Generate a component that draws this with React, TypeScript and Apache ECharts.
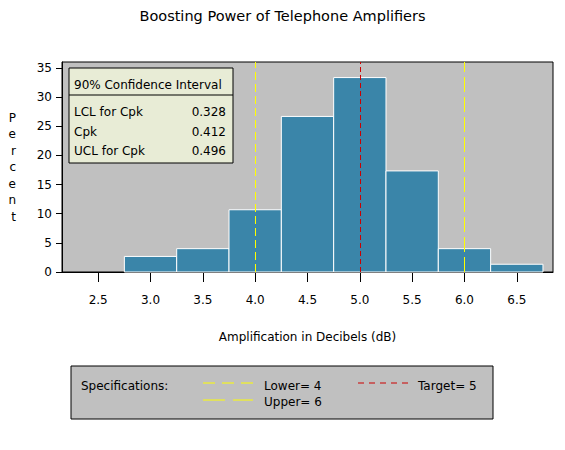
import { useEffect, useRef } from 'react'
import * as echarts from 'echarts'

const FONT = 'DejaVu Sans'

// histogram bins (midpoints 3.0 .. 6.5, width 0.5) and percent of units
const binEdges = [2.75, 3.25, 3.75, 4.25, 4.75, 5.25, 5.75, 6.25, 6.75]
const percents = [2.67, 4.0, 10.67, 26.67, 33.33, 17.33, 4.0, 1.33]

const xTicks = [2.5, 3.0, 3.5, 4.0, 4.5, 5.0, 5.5, 6.0, 6.5]
const yTicks = [0, 5, 10, 15, 20, 25, 30, 35]

// specification limits
const specNames = ['Lower', 'Target', 'Upper']
const specValues = [4, 5, 6]
const specColors = ['#ffff00', '#cc0000', '#ffff00']
const specDashes = [[8, 4], [5, 3], [15, 5]]

// capability inset
const ciTitle = '90% Confidence Interval'
const ciLabels = ['LCL for Cpk', 'Cpk', 'UCL for Cpk']
const ciValues = [0.328, 0.412, 0.496]

export default function App() {
  const ref = useRef<HTMLDivElement>(null)

  useEffect(() => {
    if (!ref.current) {
      return
    }
    document.body.style.margin = '0'
    const chart = echarts.init(ref.current, null, { renderer: 'svg' })

    const bars = percents.map((p, i) => [binEdges[i], binEdges[i + 1], p])
    const text = (x: number, y: number, t: string, align = 'left') => ({
      type: 'text',
      x,
      y,
      style: { text: t, fill: '#000', font: `12px "${FONT}"`, align, verticalAlign: 'middle' },
    })

    const rowY = [112, 132, 151]
    const inset = [
      {
        type: 'rect',
        shape: { x: 69, y: 68, width: 164, height: 95 },
        style: { fill: '#e8ecd6', stroke: '#000', lineWidth: 1 },
      },
      { type: 'line', shape: { x1: 69, y1: 95, x2: 233, y2: 95 }, style: { stroke: '#000', lineWidth: 1 } },
      text(74, 85, ciTitle),
      ...ciLabels.map((l, i) => text(74, rowY[i], l)),
      ...ciValues.map((v, i) => text(226, rowY[i], v.toFixed(3), 'right')),
    ]

    const legendLine = (x1: number, x2: number, y: number, i: number, dash: number[]) => ({
      type: 'line',
      shape: { x1, y1: y, x2, y2: y },
      style: { stroke: specColors[i], lineWidth: 1, lineDash: dash },
    })
    const legend = [
      {
        type: 'rect',
        shape: { x: 71, y: 366, width: 422, height: 53 },
        style: { fill: '#c0c0c0', stroke: '#000', lineWidth: 1 },
      },
      text(81, 386, 'Specifications:'),
      legendLine(203, 253, 383, 0, [12, 7]),
      text(264, 386, `${specNames[0]}= ${specValues[0]}`),
      legendLine(203, 253, 400, 2, [22, 8]),
      text(264, 402, `${specNames[2]}= ${specValues[2]}`),
      legendLine(358, 409, 383, 1, [6, 5]),
      text(418, 386, `${specNames[1]}= ${specValues[1]}`),
    ]

    chart.setOption({
      animation: false,
      textStyle: { fontFamily: FONT, color: '#000' },
      title: {
        text: 'Boosting Power of Telephone Amplifiers',
        left: 'center',
        top: 3,
        textStyle: { fontFamily: FONT, fontSize: 14.5, fontWeight: 'normal', color: '#000' },
      },
      grid: {
        left: 62,
        right: 12,
        top: 62,
        bottom: 178,
        show: true,
        backgroundColor: '#c0c0c0',
        borderColor: '#000',
        borderWidth: 1,
      },
      xAxis: {
        type: 'value',
        min: 2.154,
        max: 6.846,
        name: 'Amplification in Decibels (dB)',
        nameLocation: 'middle',
        nameGap: 59,
        nameTextStyle: { fontFamily: FONT, fontSize: 12, color: '#000' },
        axisLine: { lineStyle: { color: '#000' } },
        axisTick: { customValues: xTicks, length: 10, lineStyle: { color: '#000' } },
        axisLabel: {
          customValues: xTicks,
          margin: 22,
          fontFamily: FONT,
          fontSize: 12,
          color: '#000',
          formatter: (v: number) => v.toFixed(1),
        },
        splitLine: { show: false },
      },
      yAxis: {
        type: 'value',
        min: 0,
        max: 36,
        name: 'Percent'.split('').join('\n'),
        nameLocation: 'middle',
        nameRotate: 0,
        nameGap: 46,
        nameTextStyle: { fontFamily: FONT, fontSize: 12, color: '#000', lineHeight: 16.5 },
        axisLine: { show: true, lineStyle: { color: '#000' } },
        axisTick: { show: true, customValues: yTicks, length: 6, lineStyle: { color: '#000' } },
        axisLabel: { customValues: yTicks, margin: 10, fontFamily: FONT, fontSize: 12, color: '#000' },
        splitLine: { show: false },
      },
      series: [
        {
          type: 'custom',
          data: bars,
          encode: { x: [0, 1], y: 2 },
          renderItem: (_params: unknown, api: any) => {
            const p0 = api.coord([api.value(0), api.value(2)])
            const p1 = api.coord([api.value(1), 0])
            return {
              type: 'rect',
              shape: { x: p0[0], y: p0[1], width: p1[0] - p0[0], height: p1[1] - p0[1] },
              style: { fill: '#3a85a9', stroke: '#ffffff', lineWidth: 1 },
            }
          },
          markLine: {
            symbol: 'none',
            silent: true,
            label: { show: false },
            z: 5,
            data: specValues.map((v, i) => ({
              xAxis: v,
              lineStyle: { color: specColors[i], type: specDashes[i], width: 1 },
            })),
          },
        },
      ],
      graphic: [...inset, ...legend],
    })

    return () => {
      chart.dispose()
    }
  }, [])

  return <div ref={ref} style={{ width: 565, height: 450 }} />
}
